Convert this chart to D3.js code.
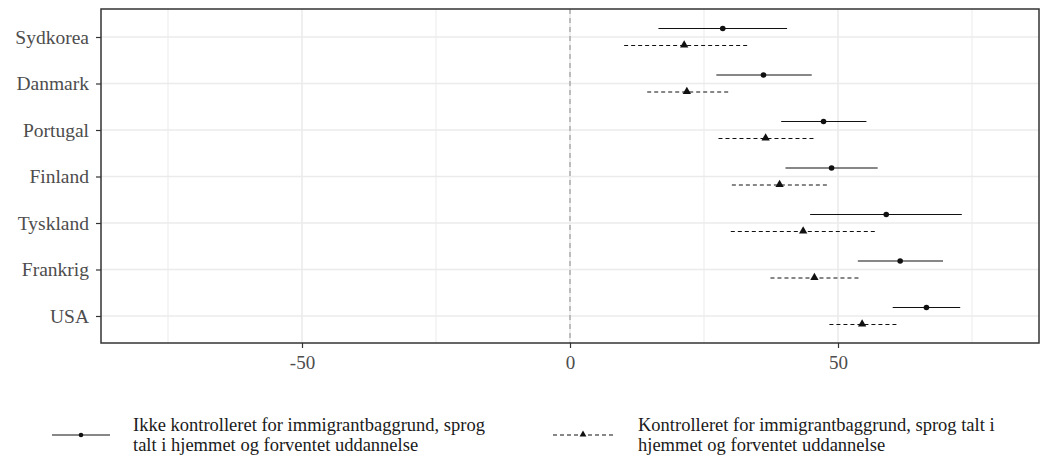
<!DOCTYPE html>
<html>
<head>
<meta charset="utf-8">
<script src="https://cdn.jsdelivr.net/npm/d3@7"></script>
<style>
  html, body { margin: 0; padding: 0; background: #fff; }
  svg { display: block; }
  text { font-family: "Liberation Serif", "DejaVu Serif", serif; }
</style>
</head>
<body>
<svg id="chart" width="1051" height="458"></svg>
<script>
const categories = ["Sydkorea", "Danmark", "Portugal", "Finland", "Tyskland", "Frankrig", "USA"];

// Series 1: not controlled (solid, circle)
const est1 = [28.5, 36.1, 47.3, 48.8, 59.0, 61.6, 66.5];
const lo1  = [16.5, 27.3, 39.4, 40.2, 44.8, 53.7, 60.2];
const hi1  = [40.5, 45.1, 55.3, 57.4, 73.1, 69.6, 72.8];

// Series 2: controlled (dashed, triangle)
const est2 = [21.3, 21.8, 36.5, 39.1, 43.5, 45.6, 54.5];
const lo2  = [10.1, 14.4, 27.7, 30.2, 30.0, 37.4, 48.4];
const hi2  = [33.2, 29.9, 45.6, 48.1, 57.1, 54.0, 61.1];

const xTicks = [-50, 0, 50];
const xMinor = [-75, -25, 25, 75];
const seriesLabels = [
  ["Ikke kontrolleret for immigrantbaggrund, sprog", "talt i hjemmet og forventet uddannelse"],
  ["Kontrolleret for immigrantbaggrund, sprog talt i", "hjemmet og forventet uddannelse"]
];

const svg = d3.select("#chart");
const P = { left: 101, right: 1039, top: 9, bottom: 343 };

const x = d3.scaleLinear().domain([-87.5, 87.5]).range([P.left, P.right]);
const y = d3.scalePoint().domain(categories).range([37, 316]);
const dodge = 8.5;

// Grid
const g = svg.append("g");
g.selectAll(".vminor").data(xMinor).join("line")
  .attr("x1", d => x(d)).attr("x2", d => x(d))
  .attr("y1", P.top).attr("y2", P.bottom)
  .attr("stroke", "#ebebeb").attr("stroke-width", 1);
g.selectAll(".vmajor").data(xTicks).join("line")
  .attr("x1", d => x(d)).attr("x2", d => x(d))
  .attr("y1", P.top).attr("y2", P.bottom)
  .attr("stroke", "#ebebeb").attr("stroke-width", 1.6);
g.selectAll(".hmajor").data(categories).join("line")
  .attr("x1", P.left).attr("x2", P.right)
  .attr("y1", d => y(d)).attr("y2", d => y(d))
  .attr("stroke", "#ebebeb").attr("stroke-width", 1.6);

// zero line
svg.append("line")
  .attr("x1", x(0)).attr("x2", x(0))
  .attr("y1", P.top).attr("y2", P.bottom)
  .attr("stroke", "#8a8a8a").attr("stroke-width", 1)
  .attr("stroke-dasharray", "5,4");

// Series
const s1 = categories.map((c, i) => ({ c, est: est1[i], lo: lo1[i], hi: hi1[i] }));
const s2 = categories.map((c, i) => ({ c, est: est2[i], lo: lo2[i], hi: hi2[i] }));

const m = svg.append("g");
m.selectAll(".e1").data(s1).join("line")
  .attr("x1", d => x(d.lo)).attr("x2", d => x(d.hi))
  .attr("y1", d => y(d.c) - dodge).attr("y2", d => y(d.c) - dodge)
  .attr("stroke", "#111").attr("stroke-width", 1.2);
m.selectAll(".p1").data(s1).join("circle")
  .attr("cx", d => x(d.est)).attr("cy", d => y(d.c) - dodge)
  .attr("r", 2.8).attr("fill", "#111");

m.selectAll(".e2").data(s2).join("line")
  .attr("x1", d => x(d.lo)).attr("x2", d => x(d.hi))
  .attr("y1", d => y(d.c) + dodge).attr("y2", d => y(d.c) + dodge)
  .attr("stroke", "#111").attr("stroke-width", 1.1)
  .attr("stroke-dasharray", "4,3");
const tri = d3.symbol().type(d3.symbolTriangle).size(30);
m.selectAll(".p2").data(s2).join("path")
  .attr("d", tri)
  .attr("transform", d => `translate(${x(d.est)},${y(d.c) + dodge - 0.5})`)
  .attr("fill", "#111");

// Panel border
svg.append("rect")
  .attr("x", P.left).attr("y", P.top)
  .attr("width", P.right - P.left).attr("height", P.bottom - P.top)
  .attr("fill", "none").attr("stroke", "#333").attr("stroke-width", 1.5);

// Axes
const xAxis = d3.axisBottom(x).tickValues(xTicks).tickSize(5).tickPadding(4).tickFormat(d => String(d));
const xg = svg.append("g").attr("transform", `translate(0,${P.bottom})`).call(xAxis);
xg.select(".domain").remove();
xg.selectAll(".tick line").attr("stroke", "#333").attr("stroke-width", 1.2);
xg.selectAll(".tick text").attr("fill", "#4d4d4d").style("font-size", "19px")
  .style("font-family", "'Liberation Serif', serif").attr("dy", "0.9em");

const yAxis = d3.axisLeft(y).tickSize(5).tickPadding(7);
const yg = svg.append("g").attr("transform", `translate(${P.left},0)`).call(yAxis);
yg.select(".domain").remove();
yg.selectAll(".tick line").attr("stroke", "#333").attr("stroke-width", 1.2);
yg.selectAll(".tick text").attr("fill", "#4d4d4d").style("font-size", "19.5px")
  .style("font-family", "'Liberation Serif', serif");

// Legend
const legend = svg.append("g");
const keyY = 435;
const keys = [
  { x0: 52, x1: 110, tx: 133, dash: null, sym: "circle" },
  { x0: 553, x1: 613, tx: 638, dash: "4,3", sym: "triangle" }
];
keys.forEach((k, i) => {
  legend.append("line")
    .attr("x1", k.x0).attr("x2", k.x1).attr("y1", keyY).attr("y2", keyY)
    .attr("stroke", "#111").attr("stroke-width", 1.1)
    .attr("stroke-dasharray", k.dash);
  const cx = (k.x0 + k.x1) / 2;
  if (k.sym === "circle") {
    legend.append("circle").attr("cx", cx).attr("cy", keyY).attr("r", 2.3).attr("fill", "#111");
  } else {
    legend.append("path").attr("d", d3.symbol().type(d3.symbolTriangle).size(20))
      .attr("transform", `translate(${cx},${keyY - 0.5})`).attr("fill", "#111");
  }
  seriesLabels[i].forEach((line, j) => {
    legend.append("text").attr("x", k.tx).attr("y", 431 + j * 20)
      .attr("fill", "#1a1a1a").style("font-size", "18.5px").text(line);
  });
});
</script>
</body>
</html>
